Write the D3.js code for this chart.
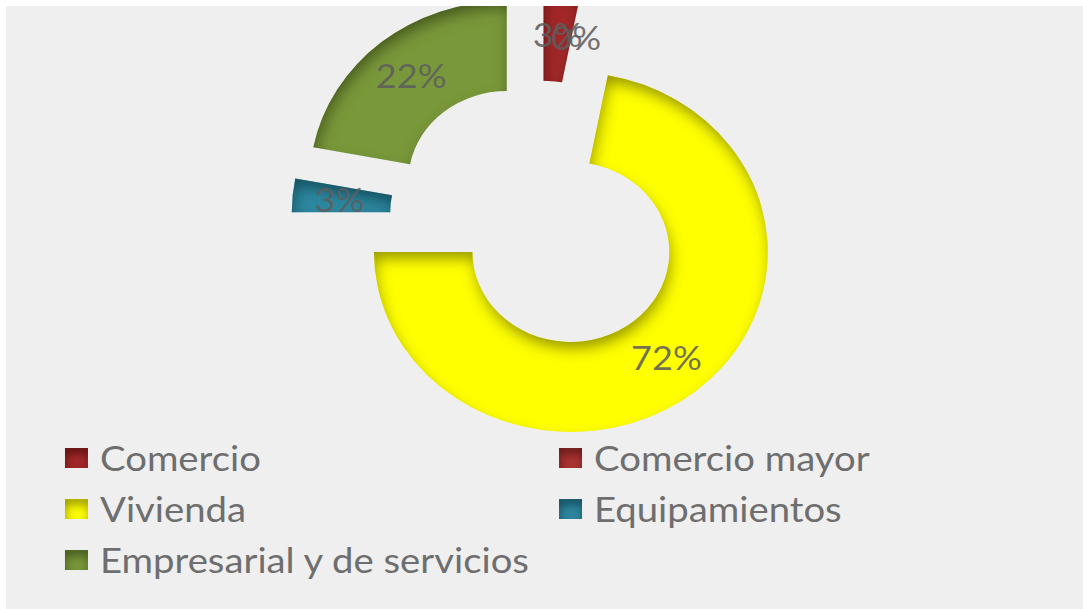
<!DOCTYPE html>
<html>
<head>
<meta charset="utf-8">
<script src="https://cdn.jsdelivr.net/npm/d3@7"></script>
<style>
  html, body { margin: 0; padding: 0; background: #ffffff; }
  svg { display: block; }
</style>
</head>
<body>
<svg id="chart" width="1083" height="609"></svg>
<script>
// Share of built area by land use
const categories = ["Comercio", "Comercio mayor", "Vivienda", "Equipamientos", "Empresarial y de servicios"];
const values = [3, 0, 72, 3, 22];
const sliceColors = ["#a42c2c", "#ad3636", "#ffff00", "#2f88a0", "#79983b"];
const valueLabels = values.map(v => v + "%");

const W = 1083, H = 609;
const sx = 1.094;                 // horizontal stretch of the whole drawing
const center = [538.8, 216.5];
const outerR = 180, innerR = 90, explode = 46, labelR = 137;
const fontFamily = "Lato, 'Open Sans', sans-serif";

const svg = d3.select("#chart");
const defs = svg.append("defs");

// Inner shadow (bevel-like) filters
function insetFilter(id, blur, dx, dy, opacity) {
  const f = defs.append("filter").attr("id", id)
    .attr("x", "-50%").attr("y", "-50%").attr("width", "200%").attr("height", "200%");
  f.append("feComponentTransfer").attr("in", "SourceAlpha").attr("result", "inv")
    .append("feFuncA").attr("type", "table").attr("tableValues", "1 0");
  f.append("feGaussianBlur").attr("in", "inv").attr("stdDeviation", blur).attr("result", "blur");
  f.append("feOffset").attr("in", "blur").attr("dx", dx).attr("dy", dy).attr("result", "off");
  f.append("feFlood").attr("flood-color", "#000").attr("flood-opacity", opacity).attr("result", "col");
  f.append("feComposite").attr("in", "col").attr("in2", "off").attr("operator", "in").attr("result", "sh");
  f.append("feComposite").attr("in", "sh").attr("in2", "SourceAlpha").attr("operator", "in").attr("result", "ish");
  const merge = f.append("feMerge");
  merge.append("feMergeNode").attr("in", "SourceGraphic");
  merge.append("feMergeNode").attr("in", "ish");
}
insetFilter("inset", 7, 2, 8, 0.68);
insetFilter("insetKey", 5, 1, 6, 0.75);

// Chart area
svg.append("rect").attr("x", 6).attr("y", 6).attr("width", W - 6).attr("height", H - 6).attr("fill", "#efefef");
defs.append("clipPath").attr("id", "plotClip").append("rect")
  .attr("x", 6).attr("y", 6).attr("width", W - 6).attr("height", H - 6);

const root = svg.append("g").attr("clip-path", "url(#plotClip)");
const g = root.append("g").attr("transform", `translate(${center[0]},${center[1]}) scale(${sx},1)`);

const pie = d3.pie().sort(null).value(d => d);
const arcs = pie(values);
const arc = d3.arc().innerRadius(innerR).outerRadius(outerR);
const color = d3.scaleOrdinal().domain(categories).range(sliceColors);

function offset(d, r) {
  const a = (d.startAngle + d.endAngle) / 2;
  return [Math.sin(a) * r, -Math.cos(a) * r];
}

const slices = g.selectAll("g.slice").data(arcs).join("g")
  .attr("class", "slice")
  .attr("transform", d => { const o = offset(d, explode); return `translate(${o[0]},${o[1]})`; });

slices.filter(d => d.value > 0).append("path")
  .attr("d", arc)
  .attr("fill", d => color(categories[d.index]))
  .attr("filter", "url(#inset)");

slices.append("text")
  .attr("x", d => offset(d, labelR)[0])
  .attr("y", d => offset(d, labelR)[1])
  .attr("text-anchor", "middle")
  .attr("dominant-baseline", "central")
  .attr("font-family", fontFamily)
  .attr("font-size", 33)
  .attr("fill", "#5e5e5e")
  .attr("fill-opacity", 0.88)
  .text(d => valueLabels[d.index]);

// Legend: two columns, row-major order
const legend = root.append("g").attr("transform", `scale(${sx},1)`);
const colX = [59.4, 511];
const rowY = [458, 509, 560];
const items = legend.selectAll("g.item").data(categories).join("g")
  .attr("class", "item")
  .attr("transform", (d, i) => `translate(${colX[i % 2]},${rowY[Math.floor(i / 2)]})`);
items.append("rect")
  .attr("x", 0).attr("y", -10).attr("width", 21).attr("height", 20)
  .attr("fill", d => color(d))
  .attr("filter", "url(#insetKey)");
items.append("text")
  .attr("x", 32).attr("y", 12.5)
  .attr("font-family", fontFamily)
  .attr("font-size", 35)
  .attr("fill", "#6e6e6e")
  .text(d => d);
</script>
</body>
</html>
